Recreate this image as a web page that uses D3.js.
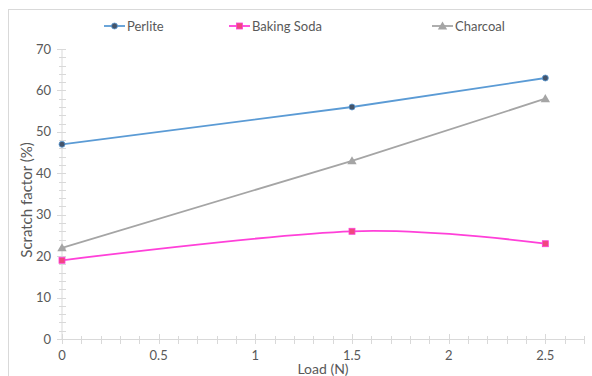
<!DOCTYPE html>
<html><head><meta charset="utf-8">
<script src="https://cdn.jsdelivr.net/npm/d3@7"></script>
<style>body{margin:0;background:#fff}svg{display:block}text{font-family:Lato,"Open Sans",sans-serif;fill:#595959}</style>
</head><body>
<svg id="c" width="592" height="376"></svg>
<script>
const loads = [0, 1.5, 2.5];
const perlite = [47, 56, 63];
const bakingSoda = [19, 26, 23];
const charcoal = [22, 43, 58];
const seriesNames = ["Perlite", "Baking Soda", "Charcoal"];
const xTicks = [0, 0.5, 1, 1.5, 2, 2.5];
const yTicks = [0, 10, 20, 30, 40, 50, 60, 70];

const svg = d3.select("#c");
svg.append("rect").attr("x",8.5).attr("y",9.5).attr("width",600).attr("height",400)
  .attr("fill","#fff").attr("stroke","#d9d9d9");

const x = d3.scaleLinear().domain([0, 2.7]).range([62, 584]);
const y = d3.scaleLinear().domain([0, 70]).range([339, 49]);
const axisColor = "#d9d9d9";

// y axis
const gy = svg.append("g");
gy.append("line").attr("x1",62).attr("x2",62).attr("y1",y(0)).attr("y2",y(70)).attr("stroke",axisColor);
d3.range(0, 71, 2).forEach(v => {
  const major = v % 10 === 0;
  gy.append("line").attr("x1", major ? 57 : 59).attr("x2", 66)
    .attr("y1", Math.round(y(v))+0.5).attr("y2", Math.round(y(v))+0.5).attr("stroke",axisColor);
});
yTicks.forEach(v => gy.append("text").attr("x",51).attr("y",y(v)+4.5)
  .attr("text-anchor","end").attr("font-size",13).text(v));

// x axis
const gx = svg.append("g");
gx.append("line").attr("x1",x(0)).attr("x2",x(2.7)).attr("y1",339.5).attr("y2",339.5).attr("stroke",axisColor);
d3.range(0, 28).forEach(i => {
  const v = i/10;
  const major = i % 5 === 0;
  const px = Math.round(x(v))+0.5;
  gx.append("line").attr("x1",px).attr("x2",px).attr("y1", major ? 334 : 336).attr("y2",344).attr("stroke",axisColor);
});
xTicks.forEach(v => gx.append("text").attr("x",x(v)).attr("y",360)
  .attr("text-anchor","middle").attr("font-size",13).text(v));

// titles
svg.append("text").attr("transform",`translate(32,${(y(0)+y(70))/2 + 6}) rotate(-90)`)
  .attr("text-anchor","middle").attr("font-size",15).text("Scratch factor (%)");
svg.append("text").attr("x",(x(0)+x(2.7))/2).attr("y",374)
  .attr("text-anchor","middle").attr("font-size",14).text("Load (N)");

const series = [
  {name: seriesNames[0], vals: perlite, line: "#5b9bd5", mark: "#44546a", shape: "circle", curve: d3.curveLinear},
  {name: seriesNames[1], vals: bakingSoda, line: "#ff40d9", mark: "#f0487f", shape: "square", curve: d3.curveCatmullRom.alpha(0)},
  {name: seriesNames[2], vals: charcoal, line: "#a5a5a5", mark: "#a5a5a5", shape: "triangle", curve: d3.curveLinear}
];

function marker(g, shape, cx, cy, col, stroke) {
  if (shape === "circle") g.append("circle").attr("cx",cx).attr("cy",cy).attr("r",3).attr("fill",col).attr("stroke",stroke).attr("stroke-width",0.8);
  else if (shape === "square") g.append("rect").attr("x",cx-3).attr("y",cy-3).attr("width",6).attr("height",6).attr("fill",col).attr("stroke",stroke).attr("stroke-width",0.8);
  else g.append("path").attr("d",d3.symbol(d3.symbolTriangle, 38)()).attr("transform",`translate(${cx},${cy+0.8})`).attr("fill",col);
}

series.forEach(s => {
  const line = d3.line().x((d,i)=>x(loads[i])).y(d=>y(d)).curve(s.curve);
  svg.append("path").attr("d", line(s.vals)).attr("fill","none").attr("stroke",s.line).attr("stroke-width",1.8);
  s.vals.forEach((v,i) => marker(svg, s.shape, x(loads[i]), y(v), s.mark, s.line));
});

// legend
const legendX = [104, 229, 432];
series.forEach((s,i) => {
  const lx = legendX[i], ly = 26;
  svg.append("line").attr("x1",lx).attr("x2",lx+21).attr("y1",ly).attr("y2",ly).attr("stroke",s.line).attr("stroke-width",1.8);
  marker(svg, s.shape, lx+10.5, ly, s.mark, s.line);
  svg.append("text").attr("x",lx+23).attr("y",ly+4.5).attr("font-size",13).text(s.name);
});
</script>
</body></html>
